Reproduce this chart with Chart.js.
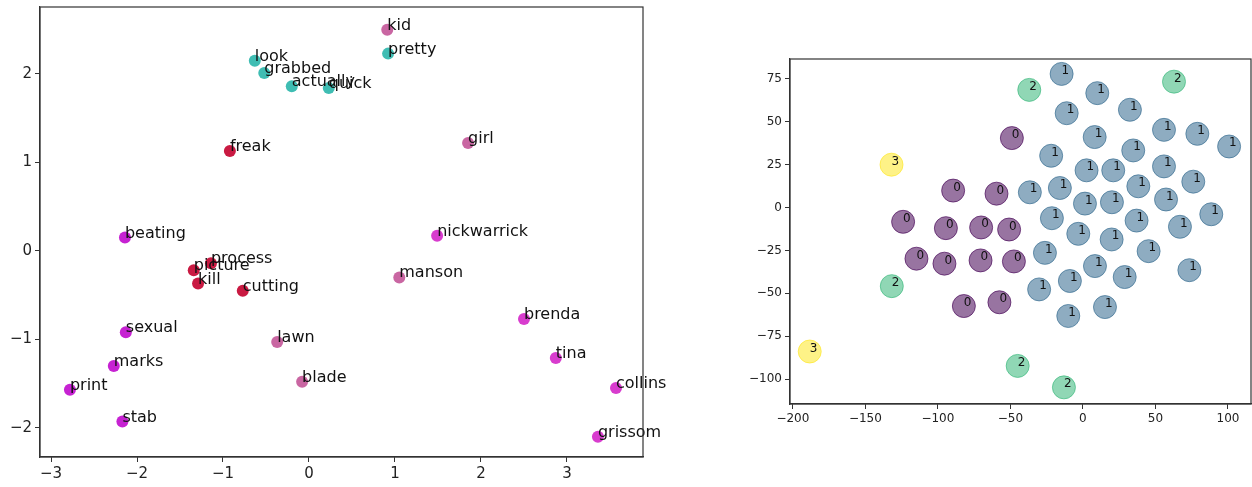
<!DOCTYPE html>
<html>
<head>
<meta charset="utf-8">
<script src="https://cdn.jsdelivr.net/npm/chart.js@4.4.0/dist/chart.umd.min.js"></script>
<style>
  body { margin: 0; background: #fff; width: 1252px; height: 487px; position: relative; overflow: hidden; }
  #izq { position: absolute; left: 0; top: 0; }
  #der { position: absolute; left: 740px; top: 0; }
</style>
</head>
<body>
<canvas id="izq" width="740" height="487"></canvas>
<canvas id="der" width="540" height="487"></canvas>
<script>
// ---- grafica izquierda: palabras ----
const palabras = ['kid', 'pretty', 'look', 'grabbed', 'actually', 'quick', 'freak', 'girl',
  'beating', 'nickwarrick', 'process', 'picture', 'kill', 'cutting', 'manson', 'lawn',
  'sexual', 'marks', 'print', 'stab', 'blade', 'brenda', 'tina', 'collins', 'grissom'];
const palabrasX = [0.91, 0.92, -0.63, -0.52, -0.2, 0.23, -0.92, 1.85,
  -2.14, 1.49, -1.14, -1.34, -1.29, -0.77, 1.05, -0.37,
  -2.13, -2.27, -2.78, -2.17, -0.08, 2.5, 2.87, 3.57, 3.36];
const palabrasY = [2.5, 2.23, 2.15, 2.01, 1.86, 1.84, 1.13, 1.22,
  0.15, 0.17, -0.14, -0.22, -0.37, -0.45, -0.3, -1.03,
  -0.92, -1.3, -1.57, -1.93, -1.48, -0.77, -1.21, -1.55, -2.1];
const grupoPalabra = ['rosa', 'turquesa', 'turquesa', 'turquesa', 'turquesa', 'turquesa', 'rojo', 'rosa',
  'morado', 'magenta', 'rojo', 'rojo', 'rojo', 'rojo', 'rosa', 'rosa',
  'morado', 'morado', 'morado', 'morado', 'rosa', 'magenta', 'magenta', 'magenta', 'magenta'];
const ticksIzqX = [-3, -2, -1, 0, 1, 2, 3];
const ticksIzqY = [-2, -1, 0, 1, 2];

// ---- grafica derecha: clusters ----
const clusterX = [-49, -89.5, -59.6, -124, -94.5, -70.2, -50.9, -114.8, -95.5, -70.6, -47.6, -82.1, -57.6,
  -14.7, 9.9, -11.2, 32.4, 8.1, 55.9, 78.9, 100.8, -21.9, 34.7, 2.5, 20.9, 55.9,
  -36.6, -15.9, 38.2, 76.1, 1.4, 20, 57.3, 88.5, -21.4, -3.2, 19.8, 45.3, 66.9, 37,
  -26.2, 8.3, 73.4, -30.2, -9, 28.8, -10.1, 15.2,
  -37, 62.8, -131.8, -45, -13.1,
  -132, -188.4];
const clusterY = [40.5, 9.9, 8.1, -8.3, -12, -11.6, -12.8, -29.8, -32.7, -30.8, -31.4, -57.4, -55.2,
  77.9, 66.7, 55, 57, 41.1, 45.3, 43, 35.6, 30.2, 33.3, 21.7, 21.7, 24,
  8.9, 11.4, 12.4, 15.1, 2.3, 3.1, 4.7, -3.9, -6.2, -15.3, -18.6, -25.4, -11.2, -7.6,
  -26.4, -34.1, -36.5, -47.7, -42.8, -40.5, -63.2, -58,
  68.6, 73.4, -45.8, -92.3, -104.8,
  25, -83.9];
const clusterEtiqueta = [0, 0, 0, 0, 0, 0, 0, 0, 0, 0, 0, 0, 0,
  1, 1, 1, 1, 1, 1, 1, 1, 1, 1, 1, 1, 1,
  1, 1, 1, 1, 1, 1, 1, 1, 1, 1, 1, 1, 1, 1,
  1, 1, 1, 1, 1, 1, 1, 1,
  2, 2, 2, 2, 2,
  3, 3];
const ticksDerX = [-200, -150, -100, -50, 0, 50, 100];
const ticksDerY = [-100, -75, -50, -25, 0, 25, 50, 75];

const coloresPalabra = {
  turquesa: '#3fbdb3',
  rojo: '#c91a42',
  rosa: '#c966a2',
  morado: '#c622d2',
  magenta: '#d83cce'
};
const coloresCluster = ['68,1,84', '49,104,142', '53,183,121', '253,231,37'];

const fuente = 'DejaVu Sans';

function menos(v) {
  return v < 0 ? '\u2212' + Math.abs(v) : String(v);
}

// marco completo como en matplotlib
const marco = {
  id: 'marco',
  afterDraw(chart) {
    const { ctx, chartArea: a } = chart;
    ctx.save();
    ctx.strokeStyle = '#333';
    ctx.lineWidth = 1.2;
    ctx.strokeRect(a.left, a.top, a.right - a.left, a.bottom - a.top);
    ctx.restore();
  }
};

// texto junto a cada punto
function etiquetas(textos, tam) {
  return {
    id: 'etiquetas',
    afterDatasetsDraw(chart) {
      const ctx = chart.ctx;
      ctx.save();
      ctx.fillStyle = '#111';
      ctx.font = `${tam}px "${fuente}"`;
      ctx.textAlign = 'left';
      ctx.textBaseline = 'alphabetic';
      const meta = chart.getDatasetMeta(0);
      meta.data.forEach((p, i) => {
        ctx.fillText(textos[i], p.x, p.y);
      });
      ctx.restore();
    }
  };
}

function escala(min, max, ticks, tam, fijo, esX) {
  return {
    type: 'linear',
    min: min,
    max: max,
    afterBuildTicks: s => { s.ticks = ticks.map(v => ({ value: v })); },
    afterFit: s => {
      if (esX) {
        s.height = fijo;
        s.paddingLeft = 0;
        s.paddingRight = 0;
      } else {
        s.width = fijo;
        s.paddingTop = 0;
        s.paddingBottom = 0;
      }
    },
    grid: { drawOnChartArea: false, drawTicks: true, tickLength: 5, color: '#333', tickWidth: 1 },
    border: { display: true, color: '#333', width: 1.2 },
    ticks: {
      color: '#222',
      font: { family: fuente, size: tam },
      padding: 3,
      maxRotation: 0,
      autoSkip: false,
      callback: v => menos(v)
    }
  };
}

const datosIzq = palabrasX.map((x, i) => ({ x: x, y: palabrasY[i] }));

new Chart(document.getElementById('izq'), {
  type: 'scatter',
  data: {
    datasets: [{
      data: datosIzq,
      pointRadius: 6,
      pointHoverRadius: 6,
      borderWidth: 0,
      backgroundColor: grupoPalabra.map(g => coloresPalabra[g])
    }]
  },
  options: {
    responsive: false,
    animation: false,
    layout: { padding: { top: 7, right: 97, left: 0, bottom: 0 } },
    plugins: { legend: { display: false }, tooltip: { enabled: false } },
    scales: {
      x: escala(-3.128, 3.884, ticksIzqX, 15, 30, true),
      y: escala(-2.33, 2.757, ticksIzqY, 15, 40, false)
    }
  },
  plugins: [marco, etiquetas(palabras, 16)]
});

const datosDer = clusterX.map((x, i) => ({ x: x, y: clusterY[i] }));

new Chart(document.getElementById('der'), {
  type: 'scatter',
  data: {
    datasets: [{
      data: datosDer,
      pointRadius: 11.5,
      pointHoverRadius: 11.5,
      borderWidth: 1,
      backgroundColor: clusterEtiqueta.map(c => `rgba(${coloresCluster[c]},0.55)`),
      borderColor: clusterEtiqueta.map(c => `rgba(${coloresCluster[c]},0.65)`)
    }]
  },
  options: {
    responsive: false,
    animation: false,
    layout: { padding: { top: 59, right: 29, left: 0, bottom: 0 } },
    plugins: { legend: { display: false }, tooltip: { enabled: false } },
    scales: {
      x: escala(-202, 115.9, ticksDerX, 12, 83, true),
      y: escala(-114.5, 86.6, ticksDerY, 12, 50, false)
    }
  },
  plugins: [marco, etiquetas(clusterEtiqueta.map(String), 12)]
});
</script>
</body>
</html>
